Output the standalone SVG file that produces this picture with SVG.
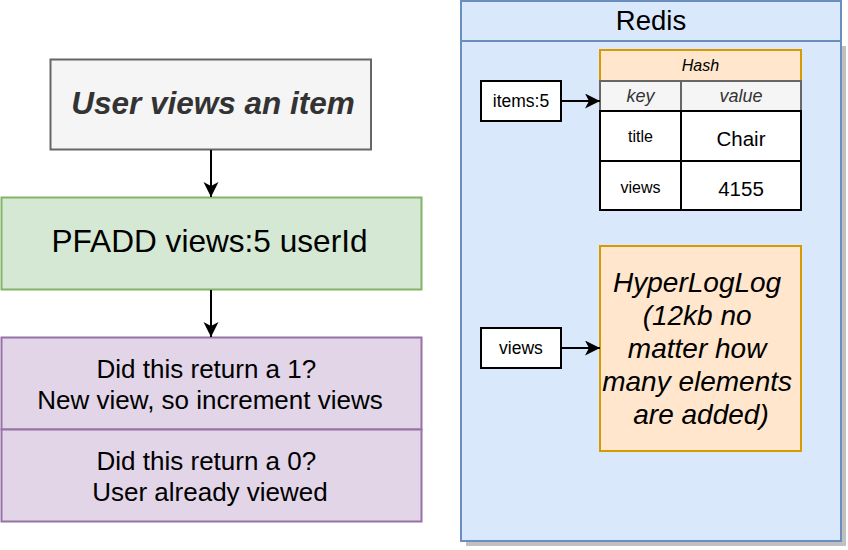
<svg xmlns="http://www.w3.org/2000/svg" width="848" height="550" viewBox="0 0 848 550">
<style>
text{font-family:"Liberation Sans",Arial,sans-serif;text-anchor:middle;fill:#000}
.it{font-style:italic}
.edge{stroke:#000;stroke-width:2;fill:none}
</style>
<defs>
<marker id="arr" markerUnits="userSpaceOnUse" markerWidth="16" markerHeight="16" refX="15" refY="7.5" orient="auto">
<path d="M0,0 L15,7.5 L0,15 L4,7.5 Z" fill="#000"/>
</marker>
</defs>
<rect width="848" height="550" fill="#fff"/>

<g id="redis">
<rect x="466" y="46" width="380" height="500" fill="#c0c0c0"/>
<rect x="461" y="1" width="380" height="540" fill="#dae8fc" stroke="#6c8ebf" stroke-width="2"/>
<line x1="461" y1="41" x2="841" y2="41" stroke="#6c8ebf" stroke-width="2"/>
<text x="651" y="30" font-size="27.5">Redis</text>
</g>

<g id="hash">
<rect x="600" y="50" width="201" height="31" fill="#ffe6cc" stroke="#d79b00" stroke-width="2"/>
<text x="700.5" y="71" font-size="16" class="it">Hash</text>
<rect x="600" y="81" width="201" height="30" fill="#f5f5f5" stroke="#666" stroke-width="2"/>
<line x1="681" y1="81" x2="681" y2="111" stroke="#666" stroke-width="2"/>
<text x="640.5" y="102" font-size="18" class="it" style="fill:#333">key</text>
<text x="741" y="102" font-size="18" class="it" style="fill:#333">value</text>
<rect x="600" y="111" width="201" height="99" fill="#fff" stroke="#000" stroke-width="2"/>
<line x1="600" y1="161" x2="801" y2="161" stroke="#000" stroke-width="2"/>
<line x1="681" y1="111" x2="681" y2="210" stroke="#000" stroke-width="2"/>
<text x="640.5" y="141.5" font-size="16">title</text>
<text x="741" y="146" font-size="20.5">Chair</text>
<text x="640.5" y="192.5" font-size="16">views</text>
<text x="741" y="196" font-size="20.5">4155</text>
</g>

<g id="items5">
<rect x="481" y="81" width="80" height="40" fill="#fff" stroke="#000" stroke-width="2"/>
<text x="521" y="107" font-size="17.5">items:5</text>
</g>

<g id="viewsKey">
<rect x="481" y="328" width="80" height="40" fill="#fff" stroke="#000" stroke-width="2"/>
<text x="521" y="354" font-size="17.5">views</text>
</g>

<g id="hll">
<rect x="600" y="246" width="201" height="205" fill="#ffe6cc" stroke="#d79b00" stroke-width="2"/>
<text font-size="28" class="it">
<tspan x="701" y="291.5">HyperLogLog</tspan>
<tspan x="701" y="324.5">(12kb no</tspan>
<tspan x="701" y="357.5">matter how</tspan>
<tspan x="701" y="390.5">many elements</tspan>
<tspan x="701" y="423.5">are added)</tspan>
</text>
</g>

<g id="userViews">
<rect x="50.5" y="59.5" width="320.5" height="90" fill="#f5f5f5" stroke="#666" stroke-width="2"/>
<text x="213" y="113.5" font-size="31.5" font-weight="bold" class="it" style="fill:#333">User views an item</text>
</g>

<g id="pfadd">
<rect x="1.5" y="197.5" width="420" height="92" fill="#d5e8d4" stroke="#82b366" stroke-width="2"/>
<text x="209.5" y="252" font-size="31.6">PFADD views:5 userId</text>
</g>

<g id="result">
<rect x="1.5" y="337.5" width="420" height="92" fill="#e1d5e7" stroke="#9673a6" stroke-width="2"/>
<text font-size="26">
<tspan x="210" y="378">Did this return a 1?</tspan>
<tspan x="210" y="409">New view, so increment views</tspan>
</text>
<rect x="1.5" y="429.5" width="420" height="92" fill="#e1d5e7" stroke="#9673a6" stroke-width="2"/>
<text font-size="26">
<tspan x="210" y="470">Did this return a 0?</tspan>
<tspan x="210" y="501">User already viewed</tspan>
</text>
</g>

<g id="connectors">
<line class="edge" x1="211" y1="150" x2="211" y2="197" marker-end="url(#arr)"/>
<line class="edge" x1="211" y1="290" x2="211" y2="337" marker-end="url(#arr)"/>
<line class="edge" x1="561" y1="101" x2="600" y2="101" marker-end="url(#arr)"/>
<line class="edge" x1="561" y1="348" x2="600" y2="348" marker-end="url(#arr)"/>
</g>
</svg>
